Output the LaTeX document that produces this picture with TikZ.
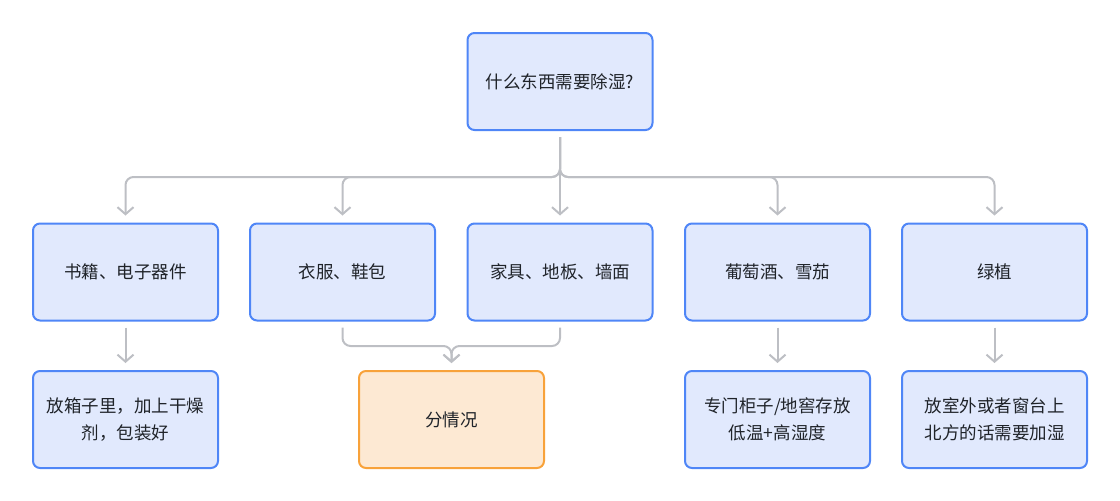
\documentclass[tikz,border=0pt]{standalone}
\usepackage{fontspec}
\newfontfamily\cjk{Noto Sans CJK SC}
\usetikzlibrary{arrows.meta,positioning}
\definecolor{bfill}{HTML}{E1E9FD}
\definecolor{bline}{HTML}{4F86F7}
\definecolor{ofill}{HTML}{FDE9D3}
\definecolor{oline}{HTML}{F8A23A}
\definecolor{conncol}{HTML}{BDBFC4}
\definecolor{txt}{HTML}{1F2329}
\tikzset{
  box/.style={draw=bline, fill=bfill, line width=2pt, rounded corners=7pt,
    minimum width=185pt, minimum height=97pt, inner sep=0pt, align=center,
    text=txt, font=\cjk\fontsize{17.5}{27}\selectfont},
  obox/.style={box, draw=oline, fill=ofill},
  conn/.style={draw=conncol, line width=2pt, rounded corners=8pt,
    -{Straight Barb[length=7pt,width=16pt]}},
}
\begin{document}
\begin{tikzpicture}[x=1pt,y=-1pt]
\useasboundingbox (0,0) rectangle (1120,501);
\node[box] (top) at (560,81.5) {什么东西需要除湿?};
\node[box] (b1) at (125.5,272) {书籍、电子器件};
\node[box] (b2) at (342.5,272) {衣服、鞋包};
\node[box] (b3) at (560,272) {家具、地板、墙面};
\node[box] (b4) at (777.5,272) {葡萄酒、雪茄};
\node[box] (b5) at (994.5,272) {绿植};
\node[box] (c1) at (125.5,419.5) {放箱子里，加上干燥\\剂，包装好};
\node[obox] (c2) at (451.5,419.5) {分情况};
\node[box] (c4) at (777.5,419.5) {专门柜子/地窖存放\\低温+高湿度};
\node[box] (c5) at (994.5,419.5) {放室外或者窗台上\\北方的话需要加湿};
\coordinate (bus) at (560,177);
\coordinate (merge) at (451.5,346);
\foreach \b in {b1,b2,b4,b5}
  \draw[conn] ([yshift=-6pt]top.south) |- (\b.north |- bus) -- ([yshift=7pt]\b.north);
\draw[conn] ([yshift=-6pt]top.south) -- ([yshift=7pt]b3.north);
\draw[conn] ([yshift=-6pt]b1.south) -- ([yshift=7pt]c1.north);
\draw[conn] ([yshift=-6pt]b4.south) -- ([yshift=7pt]c4.north);
\draw[conn] ([yshift=-6pt]b5.south) -- ([yshift=7pt]c5.north);
\draw[conn] ([yshift=-6pt]b2.south) |- (merge) -- ([yshift=7pt]c2.north);
\draw[conn] ([yshift=-6pt]b3.south) |- (merge) -- ([yshift=7pt]c2.north);
\end{tikzpicture}
\end{document}
